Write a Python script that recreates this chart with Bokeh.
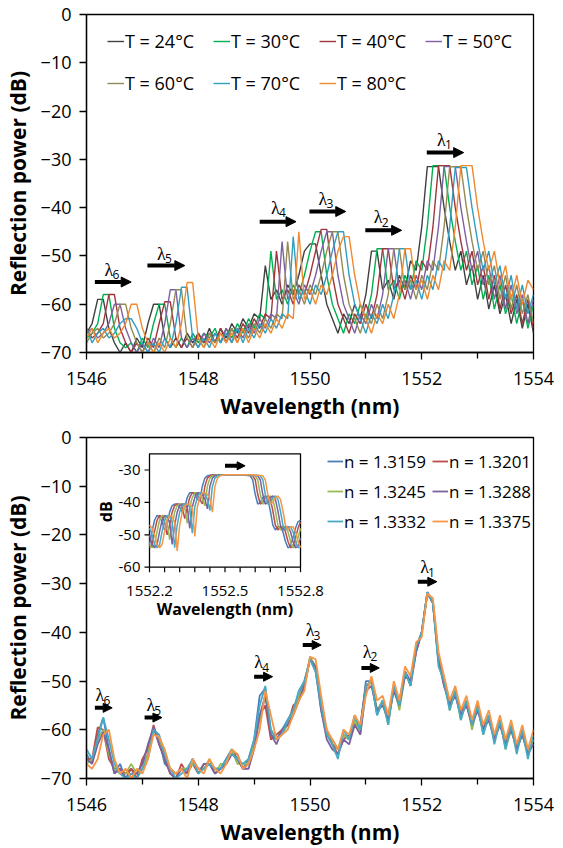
from bokeh.plotting import figure
from bokeh.layouts import column
from bokeh.models import Range1d, FixedTicker, Legend, LegendItem, Arrow, NormalHead, ColumnDataSource
from bokeh.core.properties import value
from bokeh.embed import file_html
from bokeh.resources import INLINE
import math

# ---------------- data ----------------
# wavelength sampling (nm) of the main spectra
wl = [round(1546 + 0.1 * i, 1) for i in range(81)]
# wavelength sampling (nm) of the zoomed inset
wl_inset = [round(1552.2 + 0.01 * j, 2) for j in range(61)]

t_labels = ["T = 24°C", "T = 30°C", "T = 40°C", "T = 50°C", "T = 60°C", "T = 70°C", "T = 80°C"]
t_colors = ["#404040", "#00b050", "#a0363b", "#7d60a0", "#948a54", "#2f9fc0", "#f0892f"]

t24 = [-66, -64, -59, -59, -65, -68, -70, -68, -70, -67,
       -69, -64, -60, -60, -67, -69, -67, -69, -66, -68,
       -66, -68, -65, -68, -65, -67, -64, -66, -63, -65,
       -62, -63, -52, -59, -57, -60, -56, -58, -54, -49,
       -47.5, -47.5, -54, -60, -63, -66, -62, -64, -60, -63,
       -58, -49, -49, -57, -55, -59, -54, -57, -51, -53,
       -44, -31.5, -31.5, -31.5, -40, -47, -53, -49, -56, -52,
       -59, -54, -61, -56, -62, -58, -64, -59, -65, -60, -66]
t30 = [-67,
       -66, -64, -58, -58, -65, -68, -69, -68, -70, -67,
       -69, -64, -60, -60, -67, -69, -67, -69, -66, -68,
       -66, -67, -65, -68, -65, -67, -64, -66, -63, -65,
       -62, -63, -49, -59, -57, -60, -56, -58, -54, -49,
       -45, -45, -54, -60, -63, -66, -62, -64, -60, -63,
       -58, -48.5, -48.5, -57, -55, -59, -54, -57, -51, -53,
       -44, -31.3, -31.3, -31.3, -40, -47, -53, -49, -56, -52,
       -59, -54, -61, -56, -62, -58, -64, -59, -65, -60]
t40 = [-65, -67,
       -66, -64, -58, -58, -65, -68, -70, -68, -70, -67,
       -69, -64, -59.5, -59.5, -67, -69, -67, -69, -66, -68,
       -66, -68, -65, -68, -65, -67, -64, -66, -63, -65,
       -62, -63, -49, -59, -57, -60, -56, -58, -54, -49,
       -44.5, -44.5, -54, -60, -63, -66, -62, -64, -60, -63,
       -58, -48.5, -48.5, -57, -55, -59, -54, -57, -51, -53,
       -44, -31.3, -31.3, -31.3, -40, -47, -53, -49, -56, -52,
       -59, -54, -61, -56, -62, -58, -64, -59, -65]
t50 = [-66, -65, -67,
       -66, -64, -60, -60, -65, -68, -70, -68, -70, -67,
       -69, -64, -57, -57, -67, -69, -67, -69, -66, -68,
       -66, -68, -65, -68, -65, -67, -64, -66, -63, -65,
       -62, -63, -47, -59, -57, -60, -56, -58, -54, -49,
       -45, -45, -54, -60, -63, -66, -62, -64, -60, -63,
       -58, -48.5, -48.5, -57, -55, -59, -54, -57, -51, -53,
       -44, -31.5, -31.5, -31.5, -40, -47, -53, -49, -56, -52,
       -59, -54, -61, -56, -62, -58, -64, -59]
t60 = [-68, -66, -65, -67,
       -66, -64, -60, -60, -65, -68, -70, -68, -70, -67,
       -69, -64, -57, -57, -67, -69, -67, -69, -66, -68,
       -66, -68, -65, -68, -65, -67, -64, -66, -63, -65,
       -62, -63, -47, -59, -57, -60, -56, -58, -54, -49,
       -45, -45, -54, -60, -63, -66, -62, -64, -60, -63,
       -58, -48.5, -48.5, -57, -55, -59, -54, -57, -51, -53,
       -44, -31.5, -31.5, -31.5, -40, -47, -53, -49, -56, -52,
       -59, -54, -61, -56, -62, -58, -64]
t70 = [-65, -68, -66, -65, -67,
       -66, -64, -63, -63, -65, -68, -70, -68, -70, -67,
       -69, -64, -56.5, -56.5, -67, -69, -67, -69, -66, -68,
       -66, -68, -65, -68, -65, -67, -64, -66, -63, -65,
       -62, -63, -46, -59, -57, -60, -56, -58, -54, -49,
       -45, -45, -54, -60, -63, -66, -62, -64, -60, -63,
       -58, -48.5, -48.5, -57, -55, -59, -54, -57, -51, -53,
       -44, -31.7, -31.7, -31.7, -40, -47, -53, -49, -56, -52,
       -59, -54, -61, -56, -62, -58]
t80 = [-67, -65, -68, -66, -65, -67,
       -66, -64, -60, -60, -65, -68, -70, -68, -70, -67,
       -69, -64, -55.5, -55.5, -67, -69, -67, -69, -66, -68,
       -66, -68, -65, -68, -65, -67, -64, -66, -63, -65,
       -62, -63, -45, -59, -57, -60, -56, -58, -54, -49,
       -46, -46, -54, -60, -63, -66, -62, -64, -60, -63,
       -58, -48.5, -48.5, -57, -55, -59, -54, -57, -51, -53,
       -44, -31.3, -31.3, -31.3, -40, -47, -53, -49, -56, -52,
       -59, -54, -60, -55, -57]
t_series = [t24, t30, t40, t50, t60, t70, t80]

n_labels = ["n = 1.3159", "n = 1.3201", "n = 1.3245", "n = 1.3288", "n = 1.3332", "n = 1.3375"]
n_colors = ["#4a7ebb", "#be4b48", "#98b954", "#7d60a0", "#46aac5", "#f79646"]

n13159 = [-65, -67, -61, -57.5, -64, -69, -67, -70, -68, -69,
          -67, -65, -59.5, -62, -67, -68, -69, -68, -69, -66,
          -68, -68, -67, -69, -68, -66, -64, -66, -68, -66,
          -62, -53, -51.5, -61, -62, -60, -58, -56, -53, -50,
          -45.5, -48, -56, -61, -63, -64, -61, -62, -58, -60,
          -50, -50, -57, -54, -58, -51, -55, -48, -50, -43,
          -40, -31.8, -34, -46, -50, -55, -52, -57, -54, -59,
          -55, -60, -57, -62, -58, -63, -59, -64, -60, -65, -62]
n13201 = [-66, -66, -59.5, -60, -66, -68, -68, -69, -68, -70,
          -66, -64, -59, -63, -66, -69, -70, -67, -69, -67,
          -69, -67, -67, -68, -68, -67, -65, -65, -68, -67,
          -63, -57, -55, -62, -61, -60, -59, -55, -54, -51,
          -45.5, -47, -55, -60, -63, -65, -62, -61, -59, -59,
          -51, -50, -56, -55, -57, -52, -54, -48, -51, -44,
          -40, -32, -34, -45, -51, -54, -53, -56, -55, -58,
          -56, -59, -58, -61, -59, -62, -60, -63, -61, -64, -63]
n13245 = [-67, -66, -62, -60, -65, -68, -69, -69, -67, -69,
          -68, -65, -60, -62, -66, -68, -69, -68, -68, -67,
          -68, -68, -66, -69, -67, -67, -64, -67, -67, -67,
          -63, -58, -53, -60, -62, -61, -59, -56, -53, -51,
          -45, -47, -55, -61, -62, -64, -61, -62, -58, -61,
          -52, -50, -56, -54, -59, -51, -56, -49, -50, -43,
          -40, -31.9, -34, -46, -50, -56, -52, -58, -54, -60,
          -55, -61, -57, -62, -58, -64, -60, -64, -61, -65, -62]
n13288 = [-66, -67, -63, -60.5, -64, -69, -68, -70, -69, -69,
          -67, -63, -59.5, -63, -66, -69, -70, -68, -69, -66,
          -69, -67, -67, -69, -68, -67, -65, -66, -68, -68,
          -64, -57, -53, -61, -63, -60, -59, -57, -54, -51,
          -45.5, -47, -56, -62, -64, -65, -62, -63, -59, -61,
          -52, -51, -56, -55, -58, -52, -55, -49, -50, -44,
          -40, -31.8, -34, -46, -51, -55, -53, -57, -55, -59,
          -56, -60, -58, -62, -59, -63, -60, -64, -61, -65, -63]
n13332 = [-64, -66, -62, -57.5, -62, -67, -69, -70, -69, -70,
          -68, -66, -60, -61, -65, -68, -70, -69, -68, -66,
          -69, -68, -67, -68, -68, -66, -65, -66, -67, -66,
          -62, -55, -51, -60, -62, -61, -58, -56, -52, -50,
          -45.5, -48, -55, -61, -63, -66, -60, -62, -57, -60,
          -51, -50, -57, -54, -59, -51, -55, -48, -51, -43,
          -40, -31.7, -34, -47, -50, -56, -52, -58, -54, -59,
          -55, -61, -57, -63, -58, -64, -59, -65, -60, -66, -61]
n13375 = [-67, -68, -66, -61, -60, -66, -69, -68, -70, -68,
          -69, -66, -61, -61.5, -64, -68, -69, -68, -70, -66,
          -68, -69, -66, -68, -69, -67, -64, -65, -68, -67,
          -64, -60, -52, -57, -62, -61, -60, -57, -54, -52,
          -45, -45.5, -53, -60, -62, -64, -60, -61, -57, -59,
          -53, -49, -54, -53, -57, -50, -54, -47, -49, -42,
          -41, -32, -33, -44, -49, -54, -51, -56, -53, -58,
          -54, -59, -56, -61, -57, -62, -58, -63, -59, -64, -60]
n_series = [n13159, n13201, n13245, n13288, n13332, n13375]

# inset: zoom on lambda_1 (same six refractive indices)
i13159 = [-53, -49, -45.5, -44, -44.5, -46, -48.5, -47, -43, -41,
          -40.5, -40.5, -41.5, -43, -41.5, -38.5, -37, -37, -37.5, -39,
          -39.5, -35, -32.5, -31.8, -31.6, -31.5, -31.5, -31.5, -31.5, -31.5,
          -31.5, -31.5, -31.5, -31.5, -31.5, -31.5, -31.5, -31.6, -31.6, -31.7,
          -31.8, -33, -37.5, -40.5, -40, -38.5, -38, -39, -42.5, -47,
          -48.5, -47.5, -47.5, -49, -52, -54, -53.5, -51, -48, -46, -45.5]
i13201 = [-54, -53, -49, -45.5, -44, -44.5, -46, -50, -47, -43,
          -41, -40.5, -40.5, -41.5, -45, -41.5, -38.5, -37, -37, -37.5,
          -39, -40.5, -35, -32.5, -31.8, -31.6, -31.5, -31.5, -31.5, -31.5,
          -31.5, -31.5, -31.5, -31.5, -31.5, -31.5, -31.5, -31.5, -31.6, -31.6,
          -31.7, -31.8, -33, -37.5, -40.5, -40, -38.5, -38, -39, -42.5,
          -47, -48.5, -47.5, -47.5, -49, -52, -54, -53.5, -51, -48, -46]
i13245 = [-53, -54, -53, -49, -45.5, -44, -44.5, -46, -51.5, -47,
          -43, -41, -40.5, -40.5, -41.5, -46.5, -41.5, -38.5, -37, -37,
          -37.5, -39, -41, -35, -32.5, -31.8, -31.6, -31.5, -31.5, -31.5,
          -31.5, -31.5, -31.5, -31.5, -31.5, -31.5, -31.5, -31.5, -31.5, -31.6,
          -31.6, -31.7, -31.8, -33, -37.5, -40.5, -40, -38.5, -38, -39,
          -42.5, -47, -48.5, -47.5, -47.5, -49, -52, -54, -53.5, -51, -48]
i13288 = [-50, -53, -54, -53, -49, -45.5, -44, -44.5, -46, -53,
          -47, -43, -41, -40.5, -40.5, -41.5, -48, -41.5, -38.5, -37,
          -37, -37.5, -39, -42, -35, -32.5, -31.8, -31.6, -31.5, -31.5,
          -31.5, -31.5, -31.5, -31.5, -31.5, -31.5, -31.5, -31.5, -31.5, -31.5,
          -31.6, -31.6, -31.7, -31.8, -33, -37.5, -40.5, -40, -38.5, -38,
          -39, -42.5, -47, -48.5, -47.5, -47.5, -49, -52, -54, -53.5, -51]
i13332 = [-48, -50, -53, -54, -53, -49, -45.5, -44, -44.5, -46,
          -54, -47, -43, -41, -40.5, -40.5, -41.5, -49.5, -41.5, -38.5,
          -37, -37, -37.5, -39, -42.5, -35, -32.5, -31.8, -31.6, -31.5,
          -31.5, -31.5, -31.5, -31.5, -31.5, -31.5, -31.5, -31.5, -31.5, -31.5,
          -31.5, -31.6, -31.6, -31.7, -31.8, -33, -37.5, -40.5, -40, -38.5,
          -38, -39, -42.5, -47, -48.5, -47.5, -47.5, -49, -52, -54, -53.5]
i13375 = [-47, -48, -50, -53, -54, -53, -49, -45.5, -44, -44.5,
          -46, -55, -47, -43, -41, -40.5, -40.5, -41.5, -50.5, -41.5,
          -38.5, -37, -37, -37.5, -39, -43, -35, -32.5, -31.8, -31.6,
          -31.5, -31.5, -31.5, -31.5, -31.5, -31.5, -31.5, -31.5, -31.5, -31.5,
          -31.5, -31.5, -31.6, -31.6, -31.7, -31.8, -33, -37.5, -40.5, -40,
          -38.5, -38, -39, -42.5, -47, -48.5, -47.5, -47.5, -49, -52, -54]
i_series = [i13159, i13201, i13245, i13288, i13332, i13375]

# peak markers (lambda_1 .. lambda_6): arrow start/end wavelength, arrow level, label position
lam_sub = ["1", "2", "3", "4", "5", "6"]
top_arrow_x0 = [1552.09, 1550.99, 1549.99, 1549.10, 1547.09, 1546.15]
top_arrow_x1 = [1552.75, 1551.64, 1550.64, 1549.75, 1547.76, 1546.80]
top_arrow_y = [-28.6, -44.7, -40.8, -42.9, -52.0, -55.4]
top_lab_x = [1552.35, 1551.22, 1550.23, 1549.38, 1547.34, 1546.40]
top_lab_y = [-25.9, -42.0, -38.2, -40.0, -49.6, -52.9]

bot_arrow_x0 = [1551.93, 1550.92, 1549.87, 1549.00, 1547.04, 1546.15]
bot_arrow_x1 = [1552.27, 1551.24, 1550.20, 1549.33, 1547.35, 1546.46]
bot_arrow_y = [-29.6, -47.3, -42.6, -49.1, -57.5, -55.5]
bot_lab_x = [1552.05, 1551.02, 1550.00, 1549.08, 1547.15, 1546.24]
bot_lab_y = [-26.6, -44.0, -39.6, -46.1, -55.0, -52.9]

inset_arrow = dict(x0=[1552.50], x1=[1552.58], y=[-28.7])

y_ticks = [0, -10, -20, -30, -40, -50, -60, -70]
x_major = [1546, 1548, 1550, 1552, 1554]
x_minor = [1547, 1549, 1551, 1553]
inset_y_ticks = [-30, -40, -50, -60]
inset_x_labels = [1552.2, 1552.5, 1552.8]
inset_x_ticks = [1552.2, 1552.26, 1552.32, 1552.38, 1552.44, 1552.5, 1552.56, 1552.62, 1552.68, 1552.74, 1552.8]

# ---------------- styling helpers ----------------
FONT = "Open Sans"
FW = 447
LEFT = 79


def style_axes(p):
    for ax in (p.xaxis[0], p.yaxis[0]):
        ax.axis_line_color = "black"
        ax.axis_line_width = 1.3
        ax.major_tick_line_color = "black"
        ax.major_tick_line_width = 1.3
        ax.major_tick_out = 7
        ax.major_tick_in = 0
        ax.minor_tick_line_color = "black"
        ax.minor_tick_line_width = 1.3
        ax.minor_tick_out = 6
        ax.minor_tick_in = 0
        ax.major_label_text_font = FONT
        ax.major_label_text_font_size = "18px"
        ax.major_label_text_color = "black"
        ax.axis_label_text_font = FONT
        ax.axis_label_text_font_style = "bold"
        ax.axis_label_text_font_size = "21px"
        ax.axis_label_text_color = "black"
    p.xaxis.ticker = FixedTicker(ticks=x_major, minor_ticks=x_minor)
    p.yaxis.ticker = FixedTicker(ticks=y_ticks, minor_ticks=[])
    p.xaxis.major_label_standoff = 12
    p.yaxis.major_label_standoff = 8
    p.xaxis.axis_label_standoff = 4
    p.yaxis.axis_label_standoff = 6
    p.xaxis.axis_label = "Wavelength (nm)"
    p.yaxis.axis_label = "Reflection power (dB)"
    p.grid.visible = False
    p.outline_line_color = "black"
    p.outline_line_width = 1.3
    p.outline_line_alpha = 1.0


def lambda_marks(p, x0, x1, ya, lx, ly, head=10, **rng):
    src = ColumnDataSource(dict(x0=x0, x1=x1, y=ya))
    p.add_layout(Arrow(end=NormalHead(size=head, fill_color="black", line_color="black", line_width=1),
                       x_start="x0", y_start="y", x_end="x1", y_end="y", source=src,
                       line_width=4, line_color="black", **rng))
    lsrc = ColumnDataSource(dict(x=lx, y=ly, t=["λ"] * len(lx), s=lam_sub[:len(lx)]))
    p.text(x="x", y="y", text="t", source=lsrc, text_font=value("Liberation Serif"),
           text_font_size="18px", text_align="center", text_baseline="middle", text_color="black")
    p.text(x="x", y="y", text="s", source=lsrc, text_font=value(FONT), x_offset=7, y_offset=5,
           text_font_size="12px", text_align="center", text_baseline="middle", text_color="black")


# ---------------- top chart (temperature) ----------------
p1 = figure(frame_width=FW, frame_height=338, min_border_left=LEFT, min_border_right=21,
            min_border_top=14, min_border_bottom=70, x_range=Range1d(1546, 1554),
            y_range=Range1d(-70, 0), output_backend="svg", toolbar_location=None,
            background_fill_color="white", border_fill_color="white")
style_axes(p1)
items1 = []
for lab, col, ys in zip(t_labels, t_colors, t_series):
    r = p1.line(wl, ys, line_color=col, line_width=1.4)
    items1.append(LegendItem(label=lab, renderers=[r]))
leg1 = Legend(items=items1, orientation="horizontal", ncols=4, location=(21, 253),
              glyph_width=17, glyph_height=32, label_height=32, label_width=78,
              label_standoff=1, spacing=10, padding=0, margin=0,
              label_text_font=FONT, label_text_font_size="18px", label_text_color="black",
              border_line_color=None, background_fill_alpha=0)
p1.add_layout(leg1)
lambda_marks(p1, top_arrow_x0, top_arrow_x1, top_arrow_y, top_lab_x, top_lab_y)

# ---------------- bottom chart (refractive index) ----------------
FH2 = 341
p2 = figure(frame_width=FW, frame_height=FH2, min_border_left=LEFT, min_border_right=21,
            min_border_top=15, min_border_bottom=70, x_range=Range1d(1546, 1554),
            y_range=Range1d(-70, 0), output_backend="svg", toolbar_location=None,
            background_fill_color="white", border_fill_color="white")
style_axes(p2)
items2 = []
for lab, col, ys in zip(n_labels, n_colors, n_series):
    r = p2.line(wl, ys, line_color=col, line_width=1.8)
    items2.append(LegendItem(label=lab, renderers=[r]))
leg2 = Legend(items=items2, orientation="horizontal", ncols=2, location=(241, 245),
              glyph_width=16, glyph_height=24, label_height=24, label_width=80,
              label_standoff=1, spacing=6, padding=0, margin=0,
              label_text_font=FONT, label_text_font_size="17px", label_text_color="black",
              border_line_color=None, background_fill_alpha=0)
p2.add_layout(leg2)
lambda_marks(p2, bot_arrow_x0, bot_arrow_x1, bot_arrow_y, bot_lab_x, bot_lab_y, head=9)

# inset placed inside the bottom frame via its own ranges
IN_L, IN_R, IN_T, IN_B = 63, 214, 16.3, 129.7   # inset box in px from frame top-left
ix0, ix1, iy0, iy1 = 1552.2, 1552.8, -60, -25
sx = (ix1 - ix0) / (IN_R - IN_L)
sy = (iy1 - iy0) / (IN_B - IN_T)
p2.extra_x_ranges = {"ix": Range1d(ix0 - IN_L * sx, ix1 + (FW - IN_R) * sx)}
p2.extra_y_ranges = {"iy": Range1d(iy0 - (FH2 - IN_B) * sy, iy1 + IN_T * sy)}
rng = dict(x_range_name="ix", y_range_name="iy")
p2.quad(left=[ix0], right=[ix1], bottom=[iy0], top=[iy1], fill_color="white",
        line_color="black", line_width=1.3, **rng)
for col, ys in zip(n_colors, i_series):
    p2.line(wl_inset, ys, line_color=col, line_width=1.5, **rng)
tick_len = 5
p2.segment(x0=[ix0] * 4, x1=[ix0 - tick_len * sx] * 4, y0=inset_y_ticks, y1=inset_y_ticks,
           line_color="black", line_width=1.2, **rng)
p2.segment(x0=inset_x_ticks, x1=inset_x_ticks, y0=[iy0] * len(inset_x_ticks),
           y1=[iy0 - tick_len * sy] * len(inset_x_ticks), line_color="black", line_width=1.2, **rng)
p2.text(x=[ix0 - 9 * sx] * 4, y=inset_y_ticks, text=[str(v) for v in inset_y_ticks],
        text_font=value(FONT), text_font_size="15px", text_align="right", text_baseline="middle",
        text_color="black", **rng)
p2.text(x=inset_x_labels, y=[iy0 - 24 * sy] * 3, text=[f"{v:.1f}" for v in inset_x_labels],
        text_font=value(FONT), text_font_size="15px", text_align="center", text_baseline="middle",
        text_color="black", **rng)
p2.text(x=[(ix0 + ix1) / 2], y=[iy0 - 41.6 * sy], text=["Wavelength (nm)"], text_font=value(FONT),
        text_font_style="bold", text_font_size="16px", text_align="center", text_baseline="middle",
        text_color="black", **rng)
p2.text(x=[ix0 - 44 * sx], y=[iy1 - 58 * sy], text=["dB"], text_font=value(FONT),
        text_font_style="bold", text_font_size="16px", text_align="center", text_baseline="middle",
        angle=math.pi / 2, text_color="black", **rng)
isrc = ColumnDataSource(inset_arrow)
p2.add_layout(Arrow(end=NormalHead(size=8, fill_color="black", line_color="black", line_width=1),
                    x_start="x0", y_start="y", x_end="x1", y_end="y", source=isrc,
                    line_width=4, line_color="black", **rng))

layout = column(p1, p2, spacing=0)
open("out.html", "w").write(file_html(layout, INLINE))
